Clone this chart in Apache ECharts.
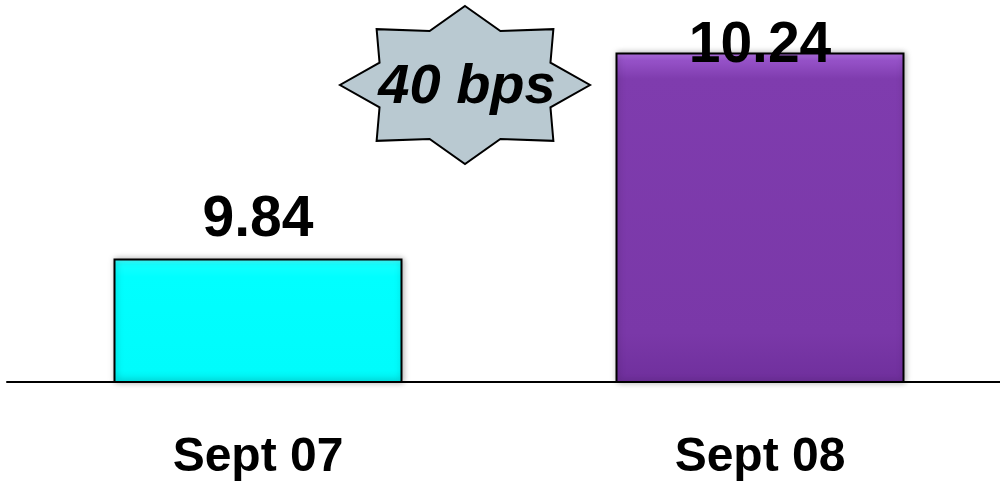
<!DOCTYPE html>
<html>
<head>
<meta charset="utf-8">
<style>
  html, body { margin: 0; padding: 0; background: #fff; }
  #chart { width: 1000px; height: 484px; }
</style>
<script src="https://cdn.jsdelivr.net/npm/echarts@6/dist/echarts.min.js"></script>
</head>
<body>
<div id="chart"></div>
<script>
// Yield by month
const categories = ['Sept 07', 'Sept 08'];
const yieldValues = [9.84, 10.24];
const valueLabels = ['9.84', '10.24'];

const FONT = '"Liberation Sans", Arial, Helvetica, sans-serif';

const chart = echarts.init(document.getElementById('chart'));

// Bevelled bar fills
const cyanFill = new echarts.graphic.LinearGradient(0, 0, 0, 1, [
  { offset: 0, color: '#4dffff' },
  { offset: 0.05, color: '#14ffff' },
  { offset: 0.15, color: '#00ffff' },
  { offset: 0.9, color: '#00fcfc' },
  { offset: 1, color: '#00eaea' }
]);
const purpleFill = new echarts.graphic.LinearGradient(0, 0, 0, 1, [
  { offset: 0, color: '#b875ea' },
  { offset: 0.025, color: '#9652c8' },
  { offset: 0.08, color: '#7f3cae' },
  { offset: 0.85, color: '#7a38a8' },
  { offset: 1, color: '#6f2f9c' }
]);
const fills = [cyanFill, purpleFill];
const labelOffsets = [[0, -5], [0, 27]];

// Difference between the two months in basis points
const diffBps = Math.round((yieldValues[1] - yieldValues[0]) * 100);

// Eight-pointed burst, stretched horizontally
function burstPoints(cx, cy, rx, ry, inner) {
  const pts = [];
  for (let i = 0; i < 16; i++) {
    const a = -Math.PI / 2 + i * Math.PI / 8;
    const r = i % 2 === 0 ? 1 : inner;
    pts.push([cx + Math.cos(a) * rx * r, cy + Math.sin(a) * ry * r]);
  }
  return pts;
}

const option = {
  animation: false,
  grid: {
    left: 7, width: 1004, top: 21.5, bottom: 102,
    outerBoundsMode: 'none', containLabel: false
  },
  xAxis: {
    type: 'category',
    data: categories,
    axisLine: { show: true, lineStyle: { color: '#000', width: 2 } },
    axisTick: { show: false },
    axisLabel: {
      color: '#000',
      fontFamily: FONT,
      fontWeight: 'bold',
      fontSize: 48,
      margin: 52
    }
  },
  yAxis: {
    type: 'value',
    min: 9.6,
    max: 10.3,
    show: false,
    splitLine: { show: false }
  },
  series: [{
    type: 'bar',
    barWidth: 289,
    data: yieldValues.map((v, i) => ({
      value: v,
      itemStyle: {
        color: fills[i],
        borderColor: '#000',
        borderWidth: 2,
        shadowColor: 'rgba(0,0,0,0.28)',
        shadowBlur: 6,
        shadowOffsetX: 1
      },
      label: {
        show: true,
        position: 'top',
        offset: labelOffsets[i],
        formatter: valueLabels[i],
        color: '#000',
        fontFamily: FONT,
        fontWeight: 'bold',
        fontSize: 57
      }
    }))
  }],
  graphic: [
    {
      type: 'polygon',
      shape: { points: burstPoints(465, 85, 125, 79, 0.74) },
      style: { fill: '#b9c9d1', stroke: '#000', lineWidth: 2 },
      z: 10
    },
    {
      type: 'text',
      x: 467,
      y: 88,
      style: {
        text: diffBps + ' bps',
        fill: '#000',
        font: 'italic bold 56px ' + FONT,
        align: 'center',
        verticalAlign: 'middle'
      },
      z: 11
    }
  ]
};

chart.setOption(option);
</script>
</body>
</html>
